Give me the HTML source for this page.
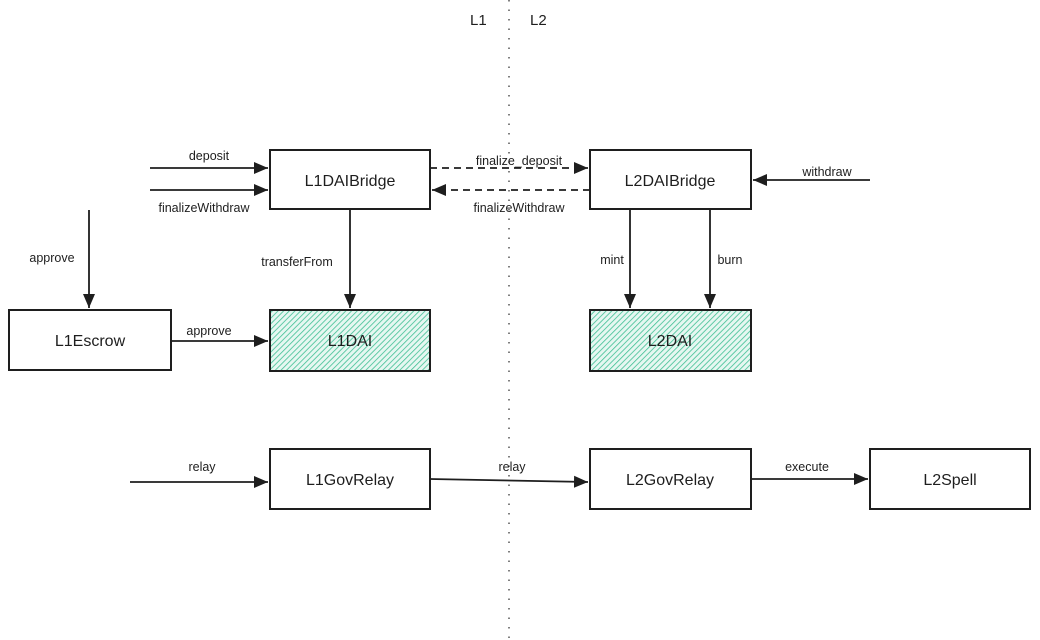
<!DOCTYPE html>
<html><head><meta charset="utf-8"><style>
html,body{margin:0;padding:0;background:#fff;}
svg{display:block;}
text{font-family:"Liberation Sans",sans-serif;fill:#1e1e1e;}
</style></head><body>
<svg width="1040" height="640" viewBox="0 0 1040 640" xmlns="http://www.w3.org/2000/svg">
<defs>
<pattern id="h" width="4" height="4" patternUnits="userSpaceOnUse" patternTransform="rotate(45)">
<rect width="4" height="4" fill="#e6f7f1"/>
<line x1="0" y1="0" x2="0" y2="4" stroke="#3fbf93" stroke-width="1.6"/>
</pattern>
<marker id="b" markerWidth="16" markerHeight="16" refX="14" refY="7" orient="auto" markerUnits="userSpaceOnUse"><path d="M0,1 L14,7 L0,13 Z" fill="#1e1e1e"/></marker>
</defs>
<line x1="509" y1="0" x2="509" y2="640" stroke="#555" stroke-width="1.5" stroke-dasharray="1.5,8"/>
<text x="470" y="25" font-size="15" fill="#444">L1</text>
<text x="530" y="25" font-size="15" fill="#444">L2</text>

<g stroke="#1e1e1e" stroke-width="2" fill="#fff">
<rect x="270" y="150" width="160" height="59"/>
<rect x="590" y="150" width="161" height="59"/>
<rect x="270" y="310" width="160" height="61" fill="url(#h)"/>
<rect x="590" y="310" width="161" height="61" fill="url(#h)"/>
<rect x="9" y="310" width="162" height="60"/>
<rect x="270" y="449" width="160" height="60"/>
<rect x="590" y="449" width="161" height="60"/>
<rect x="870" y="449" width="160" height="60"/>
</g>
<g font-size="16" text-anchor="middle">
<text x="350" y="186">L1DAIBridge</text>
<text x="670" y="186">L2DAIBridge</text>
<text x="350" y="346">L1DAI</text>
<text x="670" y="346">L2DAI</text>
<text x="90" y="346">L1Escrow</text>
<text x="350" y="485">L1GovRelay</text>
<text x="670" y="485">L2GovRelay</text>
<text x="950" y="485">L2Spell</text>
</g>
<g stroke="#1e1e1e" stroke-width="1.8" fill="none">
<line x1="150" y1="168" x2="268" y2="168" marker-end="url(#b)"/>
<line x1="150" y1="190" x2="268" y2="190" marker-end="url(#b)"/>
<line x1="430" y1="168" x2="588" y2="168" stroke-dasharray="7,5" marker-end="url(#b)"/>
<line x1="590" y1="190" x2="432" y2="190" stroke-dasharray="7,5" marker-end="url(#b)"/>
<line x1="870" y1="180" x2="753" y2="180" marker-end="url(#b)"/>
<line x1="350" y1="210" x2="350" y2="308" marker-end="url(#b)"/>
<line x1="630" y1="210" x2="630" y2="308" marker-end="url(#b)"/>
<line x1="710" y1="210" x2="710" y2="308" marker-end="url(#b)"/>
<line x1="89" y1="210" x2="89" y2="308" marker-end="url(#b)"/>
<line x1="171" y1="341" x2="268" y2="341" marker-end="url(#b)"/>
<line x1="130" y1="482" x2="268" y2="482" marker-end="url(#b)"/>
<line x1="430" y1="479" x2="588" y2="482" marker-end="url(#b)"/>
<line x1="751" y1="479" x2="868" y2="479" marker-end="url(#b)"/>
</g>
<g font-size="12.5" text-anchor="middle">
<text x="209" y="160">deposit</text>
<text x="204" y="212">finalizeWithdraw</text>
<text x="519" y="165">finalize_deposit</text>
<text x="519" y="212">finalizeWithdraw</text>
<text x="827" y="176">withdraw</text>
<text x="297" y="266">transferFrom</text>
<text x="612" y="264">mint</text>
<text x="730" y="264">burn</text>
<text x="52" y="262">approve</text>
<text x="209" y="335">approve</text>
<text x="202" y="471">relay</text>
<text x="512" y="471">relay</text>
<text x="807" y="471">execute</text>
</g>
</svg>
</body></html>
